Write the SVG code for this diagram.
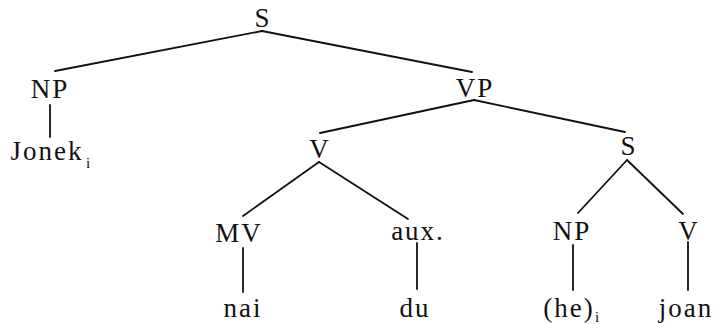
<svg xmlns="http://www.w3.org/2000/svg" width="718" height="324" viewBox="0 0 718 324">
<style>
.t{font-family:"Liberation Serif","Times New Roman",serif;font-size:27px;fill:#111;text-anchor:middle;letter-spacing:2px}
.s{font-family:"Liberation Serif","Times New Roman",serif;font-size:15px;fill:#111}
.e line{stroke:#111;stroke-width:1.8;stroke-linecap:round}
</style>
<rect width="718" height="324" fill="#fff"/>
<g class="e" id="edges">
<line x1="262" y1="31" x2="55" y2="71"/>
<line x1="262" y1="31" x2="472" y2="72"/>
<line x1="50" y1="105" x2="50" y2="137"/>
<line x1="474" y1="100" x2="320" y2="133"/>
<line x1="474" y1="100" x2="625" y2="132"/>
<line x1="319" y1="162" x2="243" y2="216"/>
<line x1="319" y1="162" x2="408" y2="219"/>
<line x1="243" y1="248" x2="243" y2="292"/>
<line x1="417" y1="243" x2="417" y2="289"/>
<line x1="627" y1="160" x2="578" y2="213"/>
<line x1="627" y1="160" x2="683" y2="214"/>
<line x1="573" y1="245" x2="573" y2="290"/>
<line x1="688" y1="242" x2="688" y2="290"/>
</g>
<g id="n-S"><text class="t" x="263" y="27">S</text></g>
<g id="n-NP"><text class="t" x="50" y="98">NP</text></g>
<g id="n-Jonek"><text class="t" x="47" y="160">Jonek</text><text class="s" x="86" y="168">i</text></g>
<g id="n-VP"><text class="t" x="475" y="97">VP</text></g>
<g id="n-V"><text class="t" x="320" y="158">V</text></g>
<g id="n-S2"><text class="t" x="629" y="155">S</text></g>
<g id="n-MV"><text class="t" x="239" y="242">MV</text></g>
<g id="n-aux"><text class="t" x="418" y="240">aux.</text></g>
<g id="n-NP2"><text class="t" x="572" y="240">NP</text></g>
<g id="n-V2"><text class="t" x="689" y="240">V</text></g>
<g id="n-nai"><text class="t" x="243" y="317">nai</text></g>
<g id="n-du"><text class="t" x="415" y="317">du</text></g>
<g id="n-he"><text class="t" x="569" y="317">(he)</text><text class="s" x="595" y="322">i</text></g>
<g id="n-joan"><text class="t" x="686" y="317">joan</text></g>
</svg>
